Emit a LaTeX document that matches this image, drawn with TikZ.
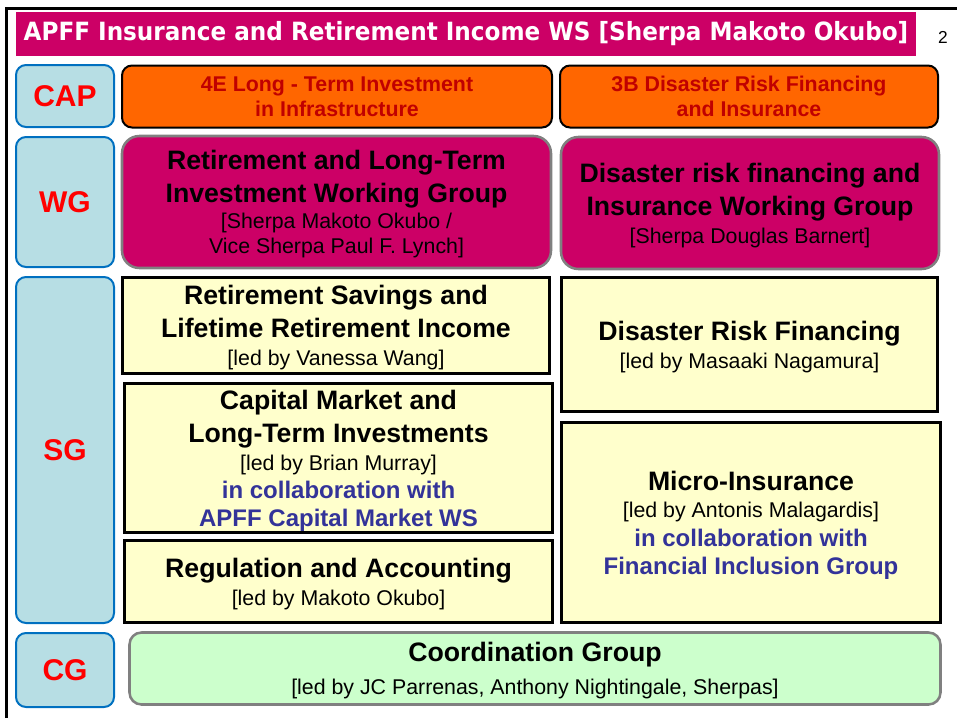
\documentclass[tikz,border=0pt]{standalone}
\usepackage{fontspec}
\setmainfont{Liberation Sans}
\newfontfamily\titlefont{DejaVu Sans}[FakeStretch=0.92]
\usepackage{tikz}

\definecolor{apffmag}{RGB}{204,0,102}
\definecolor{capfill}{RGB}{255,102,0}
\definecolor{capred}{RGB}{192,0,0}
\definecolor{labfill}{RGB}{183,222,228}
\definecolor{labline}{RGB}{0,112,192}
\definecolor{sgfill}{RGB}{255,255,204}
\definecolor{cgfill}{RGB}{204,255,204}
\definecolor{boxgray}{RGB}{128,128,128}
\definecolor{collabblue}{RGB}{51,51,153}

\def\pix{0.75pt}
\newcommand{\hd}{\bfseries\fontsize{20}{23.25}\selectfont}
\newcommand{\collab}{\bfseries\fontsize{18}{21}\selectfont\color{collabblue}}

\begin{document}
\begin{tikzpicture}[
  x=0.75pt,y=-0.75pt,
  title/.style={rectangle,fill=apffmag,text=white,inner sep=0pt,font=\titlefont\bfseries\fontsize{18.85}{22}\selectfont},
  lab/.style={rectangle,rounded corners=7.5pt,draw=labline,fill=labfill,line width=1.5pt,minimum width=98*\pix,text=red,font=\bfseries\fontsize{22.5}{27}\selectfont},
  capbox/.style={rectangle,rounded corners=7.5pt,draw=black,fill=capfill,line width=1.5pt,minimum height=62*\pix,align=center,text=capred,font=\bfseries\fontsize{16}{18.75}\selectfont},
  wgbox/.style={rectangle,rounded corners=13pt,draw=boxgray,fill=apffmag,line width=1.9pt,minimum height=132*\pix,align=center,text depth=-2.5pt,font=\fontsize{16}{18.75}\selectfont},
  sgbox/.style={rectangle,draw=black,fill=sgfill,line width=2pt,align=center,text depth=-2.5pt,font=\fontsize{16}{18.75}\selectfont},
  cgbox/.style={rectangle,rounded corners=9pt,draw=boxgray,fill=cgfill,line width=1.9pt,align=center,text depth=-2.5pt,font=\fontsize{16}{18.75}\selectfont}
]
\useasboundingbox (0,0) rectangle (957,718);

% page frame
\draw[line width=2.25pt] (6.5,718) -- (6.5,8.5) -- (957,8.5);

\node[title,minimum width=900*\pix,minimum height=44*\pix] (head) at (466,34) {APFF Insurance and Retirement Income WS [Sherpa Makoto Okubo]};
\node[font=\fontsize{13}{15}\selectfont] (page) at (943,37) {2};

% row labels
\foreach \n/\y/\h in {CAP/96/62,WG/202/130,SG/450/346,CG/670/74}
  \node[lab,minimum height=\h*\pix] (\n) at (65,\y) {\n};

% CAP
\node[capbox,minimum width=430*\pix] (cap4e) at (337,96.5) {4E Long - Term Investment\\in Infrastructure};
\node[capbox,minimum width=378*\pix] (cap3b) at (749,96.5) {3B Disaster Risk Financing\\and Insurance};

% WG
\node[wgbox,minimum width=429*\pix] (wgret) at (336.5,202) {{\hd Retirement and Long-Term}\\[6pt]{\hd Investment Working Group}\\[1pt][Sherpa Makoto Okubo /\\[0pt]Vice Sherpa Paul F. Lynch]};
\node[wgbox,minimum width=378*\pix] (wgdis) at (750,203) {{\hd Disaster risk financing and}\\[6pt]{\hd Insurance Working Group}\\[2pt][Sherpa Douglas Barnert]};

% SG
\node[sgbox,minimum width=427*\pix,minimum height=96*\pix] (sgret) at (336,325.5) {{\hd Retirement Savings and}\\[6pt]{\hd Lifetime Retirement Income}\\[2pt][led by Vanessa Wang]};
\node[sgbox,minimum width=428*\pix,minimum height=149*\pix] (sgcap) at (338.5,458) {{\hd Capital Market and}\\[6pt]{\hd Long-Term Investments}\\[2pt][led by Brian Murray]\\[2.5pt]{\collab in collaboration with}\\[2pt]{\collab APFF Capital Market WS}};
\node[sgbox,minimum width=428*\pix,minimum height=82*\pix] (sgreg) at (338.5,581.5) {{\hd Regulation and Accounting}\\[2pt][led by Makoto Okubo]};
\node[sgbox,minimum width=376*\pix,minimum height=134*\pix] (sgdrf) at (749.5,344.5) {{\hd Disaster Risk Financing}\\[2pt][led by Masaaki Nagamura]};
\node[sgbox,minimum width=379*\pix,minimum height=200*\pix] (sgmic) at (751,522.5) {{\hd Micro-Insurance}\\[2pt][led by Antonis Malagardis]\\[2.5pt]{\collab in collaboration with}\\[2.5pt]{\collab Financial Inclusion Group}};

% CG
\node[cgbox,minimum width=811*\pix,minimum height=72*\pix] (coord) at (535,668.5) {{\hd Coordination Group}\\[6pt][led by JC Parrenas, Anthony Nightingale, Sherpas]};

\end{tikzpicture}
\end{document}
